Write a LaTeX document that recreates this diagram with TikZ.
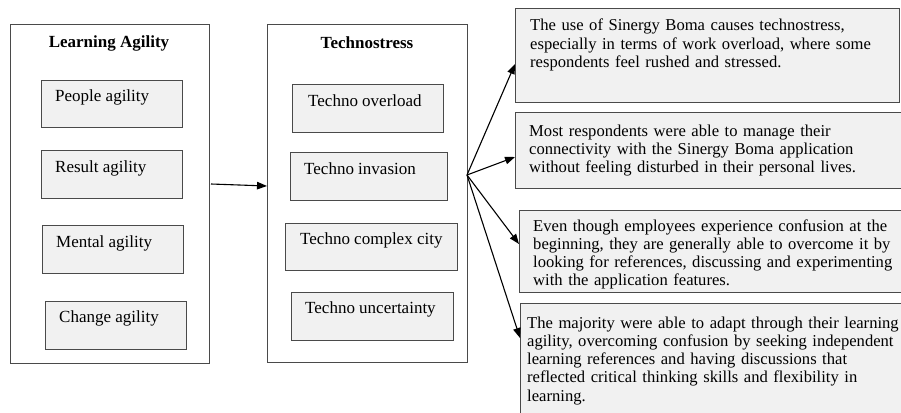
\documentclass[tikz,border=0pt]{standalone}
\usepackage{fontspec}
\setmainfont{Liberation Serif}
\usetikzlibrary{arrows.meta}
\definecolor{boxfill}{HTML}{F1F1F1}
\definecolor{boxline}{HTML}{4A4A4A}
\tikzset{
  outerbox/.style={draw=boxline, line width=0.9pt, fill=white, anchor=north west, inner sep=0pt},
  innerbox/.style={draw=boxline, line width=0.9pt, fill=boxfill, anchor=north west, inner sep=0pt},
  rightbox/.style={draw=boxline, line width=0.9pt, fill=boxfill, anchor=north west, inner sep=0pt},
  lbl/.style={anchor=west, inner sep=0pt, font=\fontsize{17}{18}\selectfont},
  ttl/.style={inner sep=0pt, font=\fontsize{17}{18}\selectfont\bfseries},
  para/.style={anchor=base west, inner sep=0pt, text width=372pt, align=left, font=\fontsize{16.6}{18.3}\selectfont},
  arr/.style={line width=1.1pt, -{Triangle[length=10pt,width=7.5pt]}}
}
\begin{document}
\begin{tikzpicture}[x=1pt,y=-1pt]
\useasboundingbox (0,0) rectangle (901,412);
% left outer box
\node[outerbox, minimum width=199pt, minimum height=339pt] (la) at (10,24) {};
\node[ttl] (lat) at (109,43) {Learning Agility};
\node[innerbox, minimum width=141pt, minimum height=47pt] (pa) at (41,80) {};
\node[innerbox, minimum width=141pt, minimum height=48pt] (ra) at (41,150) {};
\node[innerbox, minimum width=141pt, minimum height=48pt] (ma) at (42,225) {};
\node[innerbox, minimum width=141pt, minimum height=48pt] (ca) at (45,301) {};
\node[lbl] (pat) at (55,97) {People agility};
\node[lbl] (rat) at (55,168) {Result agility};
\node[lbl] (mat) at (56,243) {Mental agility};
\node[lbl] (cat) at (59,318) {Change agility};
% middle outer box
\node[outerbox, minimum width=200pt, minimum height=338pt] (ts) at (267,24) {};
\node[ttl] (tst) at (367,43) {Technostress};
\node[innerbox, minimum width=151pt, minimum height=48pt] (to) at (292,84) {};
\node[innerbox, minimum width=157pt, minimum height=48pt] (ti) at (290,152) {};
\node[innerbox, minimum width=172pt, minimum height=47pt] (tc) at (285,223) {};
\node[innerbox, minimum width=162pt, minimum height=48pt] (tu) at (291,292) {};
\node[lbl] (tot) at (308,101) {Techno overload};
\node[lbl] (tit) at (304,169) {Techno invasion};
\node[lbl] (tct) at (300,240) {Techno complex city};
\node[lbl] (tut) at (305,309) {Techno uncertainty};
% right boxes
\node[rightbox, minimum width=384pt, minimum height=94pt] (r1) at (515,8) {};
\node[rightbox, minimum width=388pt, minimum height=76pt] (r2) at (515,112) {};
\node[rightbox, minimum width=384pt, minimum height=82pt] (r3) at (519,210) {};
\node[rightbox, minimum width=390pt, minimum height=120pt] (r4) at (520,303) {};
\node[para] (r1t) at (530,31) {\makebox[300pt][s]{The use of Sinergy Boma causes technostress,}\\especially in terms of work overload, where some\\respondents feel rushed and stressed.};
\node[para] (r2t) at (529,136) {Most respondents were able to manage their\\connectivity with the Sinergy Boma application\\without feeling disturbed in their personal lives.};
\node[para] (r3t) at (533,231) {Even though employees experience confusion at the\\beginning, they are generally able to overcome it by\\looking for references, discussing and experimenting\\with the application features.};
\node[para] (r4t) at (527,328) {The majority were able to adapt through their learning\\agility, overcoming confusion by seeking independent\\learning references and having discussions that\\reflected critical thinking skills and flexibility in\\learning.};
% connectors
\coordinate (fan) at (467,175);
\draw[arr] (211,184) -- (ts.west |- 0,186);
\draw[arr] (fan) -- (r1.west |- 0,64);
\draw[arr] (fan) -- (r2.west |- 0,157);
\draw[arr] (fan) -- (r3.west |- 0,244);
\draw[arr] (fan) -- (r4.west |- 0,338);
\end{tikzpicture}
\end{document}
